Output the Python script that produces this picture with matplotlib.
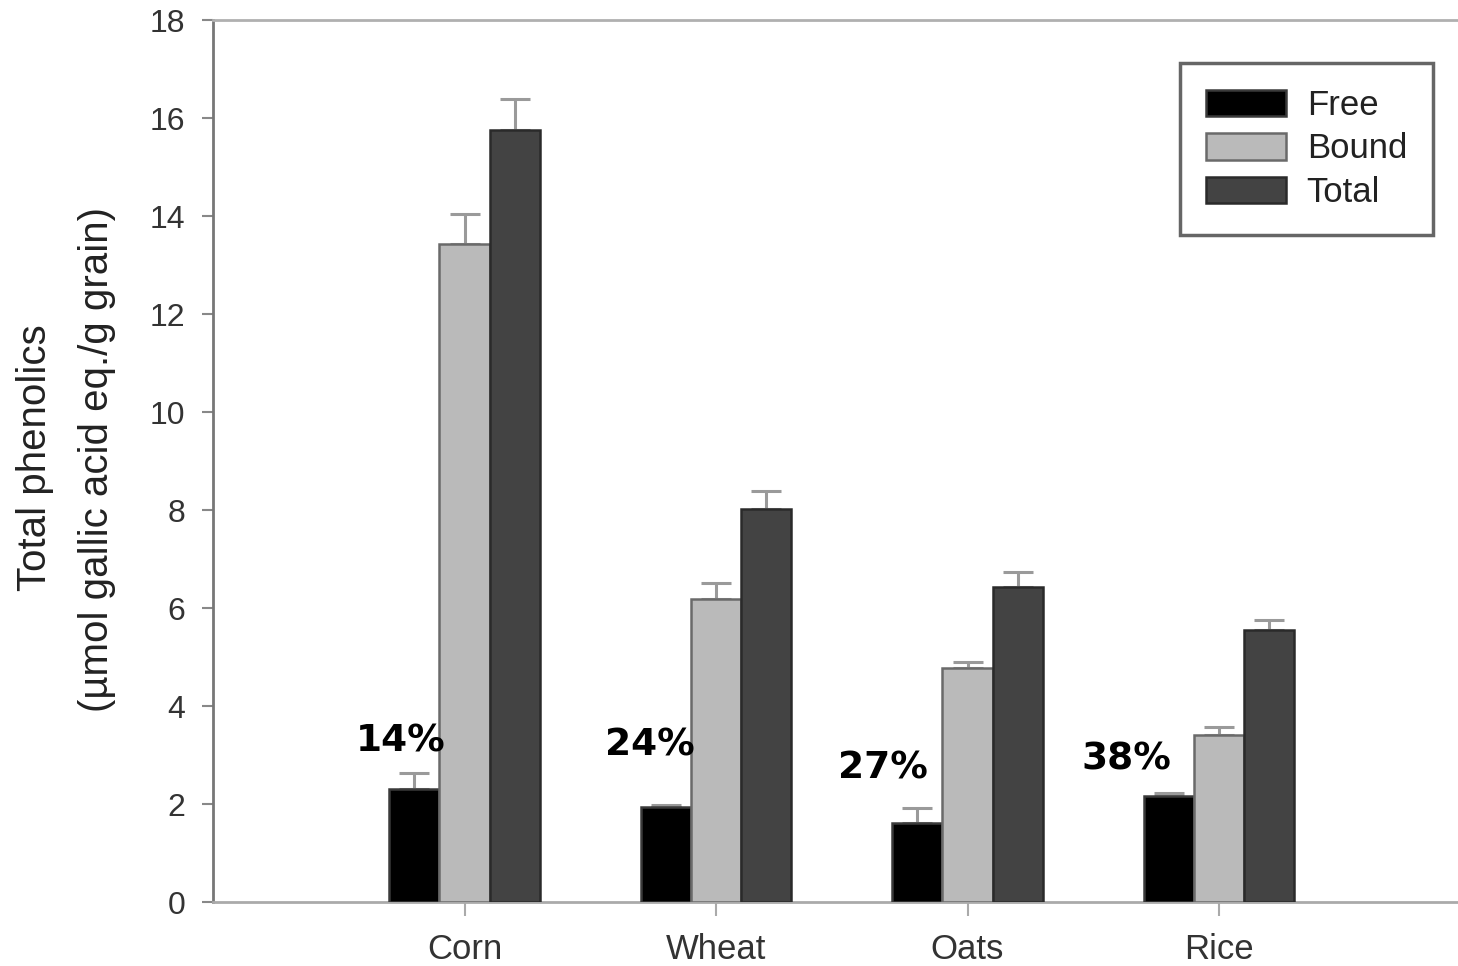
import numpy as np
import matplotlib.pyplot as plt
from matplotlib.patches import Patch

# ---------------------------------------------------------------------------
# Data: phenolics per grain (umol gallic acid eq./g), upper SD only
# ---------------------------------------------------------------------------
grains = ["Corn", "Wheat", "Oats", "Rice"]
free = [2.31, 1.94, 1.61, 2.16]
bound = [13.43, 6.18, 4.78, 3.41]
total = [15.76, 8.02, 6.43, 5.55]
free_err = [0.32, 0.04, 0.31, 0.06]
bound_err = [0.61, 0.33, 0.12, 0.16]
total_err = [0.63, 0.37, 0.30, 0.21]
free_share = ["14%", "24%", "27%", "38%"]

# where the percentage labels sit (data coords)
share_x = [0.748, 1.738, 2.664, 3.630]
share_y = [3.27, 3.20, 2.73, 2.90]

plt.rcParams['font.family'] = ['Liberation Sans', 'DejaVu Sans']

fig = plt.figure(figsize=(14.58, 9.66), dpi=100)
ax = fig.add_axes([213 / 1458, 1 - 902 / 966, 1257.5 / 1458, 882 / 966])

x = np.arange(1, len(grains) + 1)
w = 0.2
series = [
    ("Free", free, free_err, "#000000", "#3a3a3a"),
    ("Bound", bound, bound_err, "#bababa", "#6a6a6a"),
    ("Total", total, total_err, "#434343", "#2a2a2a"),
]
for i, (name, vals, err, fc, ec) in enumerate(series):
    xs = x + (i - 1) * w
    ax.bar(xs, vals, width=w, color=fc, edgecolor=ec, linewidth=1.8, zorder=3)
    ax.errorbar(xs, vals, yerr=[np.zeros(len(err)), err], fmt="none",
                ecolor="#9a9a9a", elinewidth=2.2, capsize=11, capthick=2.2,
                zorder=2)

for xp, yp, s in zip(share_x, share_y, free_share):
    ax.text(xp, yp, s, ha="center", va="center", fontsize=27,
            fontweight="bold", family=["DejaVu Sans"], color="black")

ax.set_xlim(0, 5)
ax.set_ylim(0, 18)
ax.set_yticks(np.arange(0, 19, 2))
ax.set_xticks(x)
ax.set_xticklabels(grains)

ax.tick_params(axis="y", direction="out", length=8, width=1.5,
               color="#888888", labelsize=23, labelcolor="#333333", pad=12)
ax.tick_params(axis="x", direction="out", length=10, width=1.5,
               color="#aaaaaa", labelsize=25, labelcolor="#333333", pad=12)

ax.spines["left"].set_color("#777777")
ax.spines["left"].set_linewidth(2)
ax.spines["bottom"].set_color("#aaaaaa")
ax.spines["bottom"].set_linewidth(2)
ax.spines["top"].set_color("#b0b0b0")
ax.spines["top"].set_linewidth(2)
ax.spines["right"].set_visible(False)

fig.text(35 / 1458, 1 - 458 / 966, "Total phenolics", rotation=90,
         ha="center", va="center", fontsize=29, color="#222222")
fig.text(97 / 1458, 1 - 460 / 966, "(\u00b5mol gallic acid eq./g grain)",
         rotation=90, ha="center", va="center", fontsize=29, color="#222222")

handles = [Patch(facecolor=fc, edgecolor=ec, linewidth=1.8, label=name)
           for name, _, _, fc, ec in series]
leg = ax.legend(handles=handles, loc="upper left",
                bbox_to_anchor=(1180 / 1458, 1 - 63 / 966),
                bbox_transform=fig.transFigure, fontsize=25,
                handlelength=2.3, handleheight=0.8, labelspacing=0.3,
                handletextpad=0.6, borderpad=0.75, borderaxespad=0,
                fancybox=False, framealpha=1)
leg.get_frame().set_edgecolor("#666666")
leg.get_frame().set_linewidth(2.5)
for t in leg.get_texts():
    t.set_color("#222222")

fig.savefig("out.png", dpi=100)
